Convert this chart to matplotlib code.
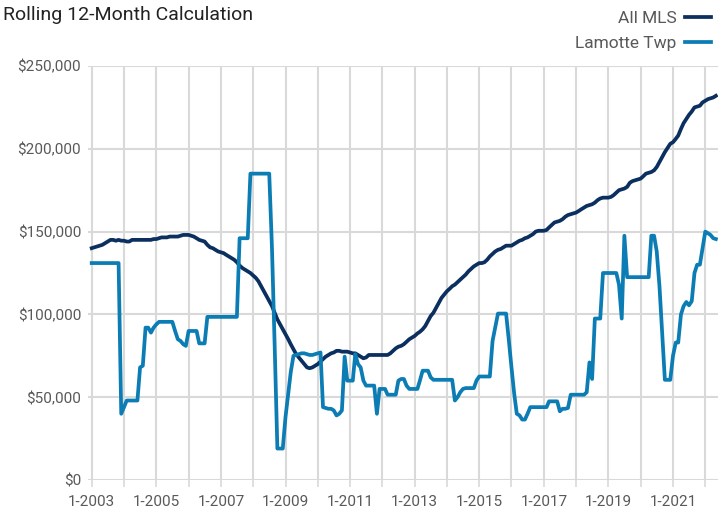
import matplotlib
matplotlib.use("Agg")
import matplotlib.pyplot as plt
import matplotlib.dates as mdates
from matplotlib.ticker import FuncFormatter
import pandas as pd

plt.rcParams['font.family'] = ['Roboto', 'DejaVu Sans']

# monthly values in $ thousands, Jan 2003 .. May 2022
all_mls = [
    140, 140.5, 141, 141.5, 142, 143, 144, 145, 145, 144.5, 145, 144.5,          # 2003
    144.5, 144, 144, 145, 145, 145, 145, 145, 145, 145, 145, 145.5,              # 2004
    145.5, 146, 146.5, 146.5, 146.5, 147, 147, 147, 147, 147.5, 148, 148,        # 2005
    148, 147.5, 147, 146, 145, 144.5, 144, 142, 140.5, 140, 139, 138,            # 2006
    137.5, 137, 136, 135, 134, 133, 131.5, 129.5, 128, 127, 126, 125,            # 2007
    123.5, 122, 120, 117, 114, 111, 108, 105, 101, 97, 94, 91,                   # 2008
    88, 85, 82, 79, 76, 74, 72, 70, 68, 67.5, 68, 69,                            # 2009
    70, 71.5, 73, 74.5, 75.5, 76.5, 77, 78, 78, 77.5, 77.5, 77.5,                # 2010
    77, 76.5, 76.5, 75.5, 74.5, 73.5, 74, 75.5, 75.5, 75.5, 75.5, 75.5,          # 2011
    75.5, 75.5, 75.5, 76.5, 78, 79.5, 80.5, 81, 82, 83.5, 85, 86,                # 2012
    87, 88.5, 89.5, 91, 93, 96, 99, 101, 104, 107, 110, 112,                     # 2013
    114, 115.5, 117, 118, 119.5, 121, 122.5, 124, 126, 127.5, 129, 130,          # 2014
    131, 131, 131.5, 133, 135, 136.5, 138, 139, 139.5, 140.5, 141.5, 141.5,      # 2015
    141.5, 142.5, 143.5, 144.5, 145, 146, 146.5, 147.5, 148.5, 150, 150.5, 150.5,  # 2016
    150.5, 151, 152.5, 154, 155.5, 156, 156.5, 157.5, 159, 160, 160.5, 161,      # 2017
    161.5, 162.5, 163.5, 164.5, 165.5, 166, 166.5, 167.5, 169, 170, 170.5, 170.5,  # 2018
    170.5, 171, 172, 173.5, 175, 175.5, 176, 177, 179.5, 180.5, 181, 181.5,      # 2019
    182, 183.5, 185, 185.5, 186, 187, 189, 192, 195, 198, 200.5, 203,            # 2020
    204, 206, 208, 212, 215.5, 218, 220.5, 222.5, 225, 225.5, 226, 228,          # 2021
    229, 230, 230.5, 231, 232,                                                   # 2022
]

lamotte = [
    131, 131, 131, 131, 131, 131, 131, 131, 131, 131, 131, 40,                   # 2003
    44, 48, 48, 48, 48, 48, 68, 69, 92, 92, 89, 92,                              # 2004
    94, 95.5, 95.5, 95.5, 95.5, 95.5, 95.5, 90, 85, 84, 82, 81,                  # 2005
    90, 90, 90, 90, 82.5, 82.5, 82.5, 98.5, 98.5, 98.5, 98.5, 98.5,              # 2006
    98.5, 98.5, 98.5, 98.5, 98.5, 98.5, 98.5, 146, 146, 146, 146, 185,           # 2007
    185, 185, 185, 185, 185, 185, 185, 140, 80, 19, 19, 19,                      # 2008
    38, 52, 65, 75, 75.5, 76, 76.5, 76.5, 76, 75.5, 75.5, 76,                    # 2009
    76.5, 77, 44, 43.5, 43, 43, 42, 39, 40, 42, 74.5, 60,                        # 2010
    60, 60, 76, 70, 68, 60, 57, 57, 57, 57, 40, 55,                              # 2011
    55, 55, 51.5, 51.5, 51.5, 51.5, 60, 61, 61, 57, 55, 55,                      # 2012
    55, 55, 60, 66, 66, 66, 62, 60.5, 60.5, 60.5, 60.5, 60.5,                    # 2013
    60.5, 60.5, 60.5, 48, 50, 53, 55, 55.5, 55.5, 55.5, 55.5, 60,                # 2014
    62.5, 62.5, 62.5, 62.5, 62.5, 84, 92, 100.5, 100.5, 100.5, 100.5, 85,        # 2015
    68, 52, 40, 39, 36.5, 36.5, 40, 44, 44, 44, 44, 44,                          # 2016
    44, 44, 47.5, 47.5, 47.5, 47.5, 41.5, 43, 43, 43.5, 51.5, 51.5,              # 2017
    51.5, 51.5, 51.5, 51.5, 53, 71, 61, 97.5, 97.5, 97.5, 125, 125,              # 2018
    125, 125, 125, 125, 118, 97.5, 147.5, 122.5, 122.5, 122.5, 122.5, 122.5,     # 2019
    122.5, 122.5, 122.5, 122.5, 147.5, 147.5, 138, 117, 88, 60.5, 60.5, 60.5,    # 2020
    75, 83, 83, 100, 105, 107.5, 105.5, 108, 125, 130, 130, 140,                 # 2021
    150, 149, 148, 146, 145.5,                                                   # 2022
]

months = pd.date_range("2003-01-01", periods=len(all_mls), freq="MS")

navy = "#0b2f5f"
blue = "#0c7db4"
grey_txt = "#595959"

fig = plt.figure(figsize=(7.18, 5.15), dpi=100)
ax = fig.add_axes([88 / 718, 35 / 515, 630 / 718, 414 / 515])

ax.plot(months, [v * 1000 for v in all_mls], color=navy, lw=2.7, label="All MLS",
        solid_joinstyle="round", zorder=3)
ax.plot(months, [v * 1000 for v in lamotte], color=blue, lw=2.7, label="Lamotte Twp",
        solid_joinstyle="round", zorder=3)

ax.set_ylim(0, 250000)
ax.set_xlim(pd.Timestamp("2002-11-20"), pd.Timestamp("2022-05-25"))
ax.set_yticks(range(0, 250001, 50000))
ax.yaxis.set_major_formatter(FuncFormatter(lambda v, p: f"${v:,.0f}"))

ax.xaxis.set_major_locator(mdates.YearLocator(1))
ax.xaxis.set_major_formatter(FuncFormatter(
    lambda v, p: f"1-{mdates.num2date(v).year}" if mdates.num2date(v).year % 2 == 1 else ""))

ax.grid(True, color="#d9d9d9", lw=1.5, zorder=0)
for s in ax.spines.values():
    s.set_visible(False)
ax.tick_params(axis="y", length=0, labelsize=11, labelcolor=grey_txt, pad=5)
ax.tick_params(axis="x", length=5, width=1.2, color="#d9d9d9", labelsize=11,
               labelcolor=grey_txt, pad=6)

fig.text(0.004, 0.988, "Rolling 12-Month Calculation", fontsize=14, color="#222222",
         va="top", ha="left")

fig.legend(loc="upper right", bbox_to_anchor=(1.0, 0.993), frameon=False, markerfirst=False,
           fontsize=12.5, labelcolor=grey_txt, handlelength=1.5, handletextpad=0.5,
           labelspacing=0.6, borderaxespad=0.1, borderpad=0.3)

fig.savefig("out.png", dpi=100)
